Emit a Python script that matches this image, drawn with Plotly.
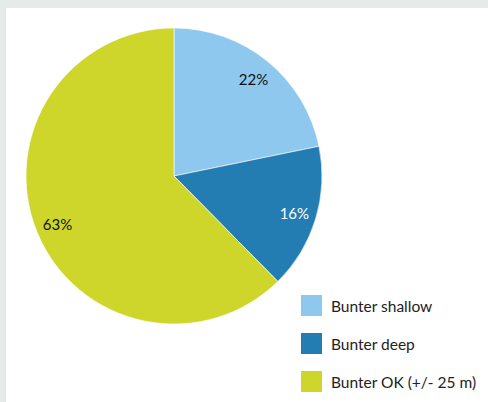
import plotly.graph_objects as go

# Pie data
labels = ['Bunter shallow', 'Bunter deep', 'Bunter OK (+/- 25 m)']
values = [22, 16, 63]
colors = ['#8ec8ee', '#237db2', '#cfd62b']
text_colors = ['#111111', '#ffffff', '#111111']

W, H = 488, 402
pie_domain = dict(x=[26 / W, 322 / W], y=[78 / H, 374 / H])

fig = go.Figure()
fig.add_trace(go.Pie(
    labels=labels,
    values=values,
    sort=False,
    direction='clockwise',
    rotation=0,
    marker=dict(colors=colors, line=dict(color='rgba(255,255,255,0.6)', width=1)),
    textinfo='none',
    hoverinfo='label+percent',
    showlegend=False,
    domain=pie_domain,
))

# transparent ring on top, only to push the percent labels outwards
fig.add_trace(go.Pie(
    labels=labels,
    values=values,
    sort=False,
    direction='clockwise',
    rotation=0,
    hole=0.7,
    marker=dict(colors=['rgba(0,0,0,0)'] * 3, line=dict(width=0)),
    texttemplate='%{value}%',
    textposition='inside',
    insidetextorientation='horizontal',
    insidetextfont=dict(family='Lato', size=15, color=text_colors),
    hoverinfo='skip',
    showlegend=False,
    domain=pie_domain,
))

# white panel on the gray page
shapes = [dict(type='rect', xref='paper', yref='paper',
               x0=6 / W, x1=1, y0=0, y1=(H - 8) / H,
               fillcolor='white', line=dict(width=0), layer='below')]
annotations = []

# legend drawn by hand (large swatches)
for i, (lab, col) in enumerate(zip(labels, colors)):
    top = 295 + i * 38
    shapes.append(dict(type='rect', xref='paper', yref='paper',
                       x0=301 / W, x1=322 / W,
                       y0=(H - top - 21) / H, y1=(H - top) / H,
                       fillcolor=col, line=dict(width=0)))
    annotations.append(dict(xref='paper', yref='paper',
                            x=329 / W, y=(H - top - 10.5) / H,
                            text=lab, showarrow=False,
                            xanchor='left', yanchor='middle',
                            font=dict(family='Lato', size=15.5, color='#222222')))

fig.update_layout(
    width=W, height=H,
    margin=dict(l=0, r=0, t=0, b=0),
    paper_bgcolor='#e6eae9',
    plot_bgcolor='white',
    shapes=shapes,
    annotations=annotations,
    font=dict(family='Lato'),
)

fig.write_html('out.html', config={'displayModeBar': False},
               post_script="document.body.style.margin='0';document.body.style.overflow='hidden';")
